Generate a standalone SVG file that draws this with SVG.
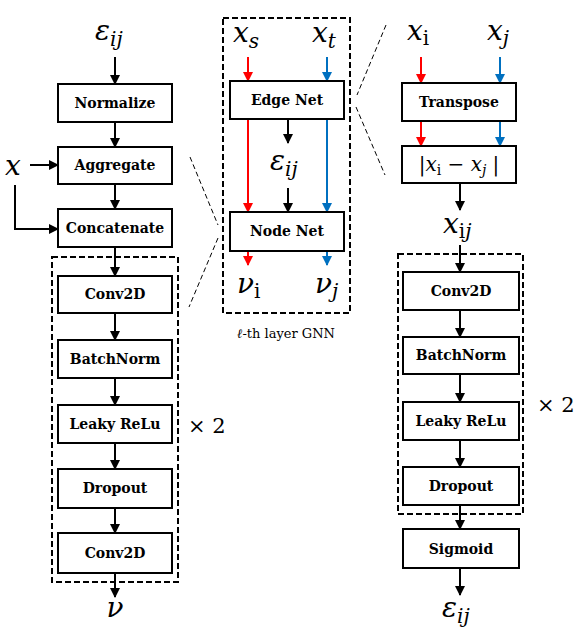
<svg xmlns="http://www.w3.org/2000/svg" width="575" height="641" viewBox="0 0 575 641">
<style>
.box{fill:#fff;stroke:#000;stroke-width:2}
.dash{fill:none;stroke:#000;stroke-width:2;stroke-dasharray:6,3}
.thin{fill:none;stroke:#000;stroke-width:1;stroke-dasharray:5,3}
.lbl{font-family:"DejaVu Serif","Liberation Serif",serif;font-weight:bold;font-size:14px;text-anchor:middle}
.math{font-family:"DejaVu Serif","Liberation Serif",serif;font-style:italic;font-size:28px}
.sub{font-size:20px}
.up{font-style:normal}
.k{stroke:#000;stroke-width:2;fill:none}
.r{stroke:#FF0000;stroke-width:2;fill:none}
.b{stroke:#0070C0;stroke-width:2;fill:none}
.plain{font-family:"DejaVu Serif","Liberation Serif",serif;font-size:13px}
.times{font-family:"DejaVu Serif","Liberation Serif",serif;font-size:21px}
</style>
<defs>
<marker id="ak" markerWidth="10" markerHeight="10" refX="9" refY="5" orient="auto" markerUnits="userSpaceOnUse"><path d="M0,0 L10,5 L0,10 Z" fill="#000"/></marker>
<marker id="ar" markerWidth="10" markerHeight="10" refX="9" refY="5" orient="auto" markerUnits="userSpaceOnUse"><path d="M0,0 L10,5 L0,10 Z" fill="#FF0000"/></marker>
<marker id="ab" markerWidth="10" markerHeight="10" refX="9" refY="5" orient="auto" markerUnits="userSpaceOnUse"><path d="M0,0 L10,5 L0,10 Z" fill="#0070C0"/></marker>
</defs>

<g id="frames">
<rect class="dash" x="52" y="257" width="126" height="325"/>
<rect class="dash" x="223" y="18" width="127" height="295"/>
<rect class="dash" x="398" y="254" width="125" height="260"/>
<line class="thin" x1="190" y1="157" x2="218" y2="225"/>
<line class="thin" x1="218" y1="238" x2="189" y2="307"/>
<line class="thin" x1="386" y1="25" x2="357" y2="95"/>
<line class="thin" x1="356" y1="107" x2="385" y2="175"/>
</g>

<g id="connectors">
<line class="k" x1="115" y1="57" x2="115" y2="84" marker-end="url(#ak)"/>
<line class="k" x1="115" y1="122" x2="115" y2="147" marker-end="url(#ak)"/>
<line class="k" x1="30" y1="165" x2="58" y2="165" marker-end="url(#ak)"/>
<polyline class="k" points="15,185 15,229 58,229" marker-end="url(#ak)"/>
<line class="k" x1="115" y1="184" x2="115" y2="209" marker-end="url(#ak)"/>
<line class="k" x1="115" y1="247" x2="115" y2="276" marker-end="url(#ak)"/>
<line class="k" x1="115" y1="313" x2="115" y2="340" marker-end="url(#ak)"/>
<line class="k" x1="115" y1="378" x2="115" y2="405" marker-end="url(#ak)"/>
<line class="k" x1="115" y1="443" x2="115" y2="469" marker-end="url(#ak)"/>
<line class="k" x1="115" y1="508" x2="115" y2="533" marker-end="url(#ak)"/>
<line class="k" x1="115" y1="573" x2="115" y2="597" marker-end="url(#ak)"/>
<line class="r" x1="248" y1="57" x2="248" y2="81" marker-end="url(#ar)"/>
<line class="b" x1="327" y1="57" x2="327" y2="81" marker-end="url(#ab)"/>
<line class="k" x1="288" y1="119" x2="288" y2="143" marker-end="url(#ak)"/>
<line class="k" x1="288" y1="188" x2="288" y2="212" marker-end="url(#ak)"/>
<line class="r" x1="248" y1="119" x2="248" y2="212" marker-end="url(#ar)"/>
<line class="b" x1="327" y1="119" x2="327" y2="212" marker-end="url(#ab)"/>
<line class="r" x1="248" y1="251" x2="248" y2="265" marker-end="url(#ar)"/>
<line class="b" x1="327" y1="251" x2="327" y2="265" marker-end="url(#ab)"/>
<line class="r" x1="421" y1="57" x2="421" y2="83" marker-end="url(#ar)"/>
<line class="b" x1="500" y1="57" x2="500" y2="83" marker-end="url(#ab)"/>
<line class="r" x1="421" y1="121" x2="421" y2="146" marker-end="url(#ar)"/>
<line class="b" x1="500" y1="121" x2="500" y2="146" marker-end="url(#ab)"/>
<line class="k" x1="460" y1="183" x2="460" y2="210" marker-end="url(#ak)"/>
<line class="k" x1="460" y1="245" x2="460" y2="272" marker-end="url(#ak)"/>
<line class="k" x1="460" y1="310" x2="460" y2="337" marker-end="url(#ak)"/>
<line class="k" x1="460" y1="374" x2="460" y2="402" marker-end="url(#ak)"/>
<line class="k" x1="460" y1="440" x2="460" y2="467" marker-end="url(#ak)"/>
<line class="k" x1="460" y1="505" x2="460" y2="529" marker-end="url(#ak)"/>
<line class="k" x1="460" y1="568" x2="460" y2="595" marker-end="url(#ak)"/>
</g>

<g id="eps-in"><text class="math" x="95" y="40">ε<tspan class="sub" dy="6">ij</tspan></text></g>
<g id="x-in"><text class="math" x="5" y="175">x</text></g>
<g id="normalize"><rect class="box" x="58" y="84" width="114" height="38"/><text class="lbl" x="115" y="108">Normalize</text></g>
<g id="aggregate"><rect class="box" x="58" y="147" width="114" height="37"/><text class="lbl" x="115" y="170">Aggregate</text></g>
<g id="concatenate"><rect class="box" x="58" y="209" width="114" height="38"/><text class="lbl" x="115" y="233">Concatenate</text></g>
<g id="conv2d-a"><rect class="box" x="58" y="276" width="114" height="37"/><text class="lbl" x="115" y="299">Conv2D</text></g>
<g id="batchnorm-a"><rect class="box" x="58" y="340" width="114" height="38"/><text class="lbl" x="115" y="364">BatchNorm</text></g>
<g id="leaky-a"><rect class="box" x="58" y="405" width="114" height="38"/><text class="lbl" x="115" y="429">Leaky ReLu</text></g>
<g id="dropout-a"><rect class="box" x="58" y="469" width="114" height="39"/><text class="lbl" x="115" y="493">Dropout</text></g>
<g id="conv2d-b"><rect class="box" x="58" y="533" width="114" height="40"/><text class="lbl" x="115" y="558">Conv2D</text></g>
<g id="v-out"><text class="math" x="115" y="617" text-anchor="middle">ν</text></g>
<g id="times-a"><text class="times" x="188" y="433">× 2</text></g>

<g id="xs"><text class="math" x="233" y="42">x<tspan class="sub" dy="6">s</tspan></text></g>
<g id="xt"><text class="math" x="312" y="42">x<tspan class="sub" dy="6">t</tspan></text></g>
<g id="edgenet"><rect class="box" x="230" y="81" width="114" height="38"/><text class="lbl" x="287" y="105">Edge Net</text></g>
<g id="eps-mid"><text class="math" x="270" y="170">ε<tspan class="sub" dy="6">ij</tspan></text></g>
<g id="nodenet"><rect class="box" x="230" y="212" width="114" height="39"/><text class="lbl" x="287" y="236">Node Net</text></g>
<g id="vi"><text class="math" x="237" y="293">ν<tspan class="sub up" dy="5">i</tspan></text></g>
<g id="vj"><text class="math" x="315" y="293">ν<tspan class="sub" dy="5">j</tspan></text></g>
<g id="gnn-label"><text class="plain" x="286" y="338" text-anchor="middle"><tspan font-style="italic">ℓ</tspan>-th layer GNN</text></g>

<g id="xi"><text class="math" x="407" y="40">x<tspan class="sub up" dy="5">i</tspan></text></g>
<g id="xj"><text class="math" x="487" y="40">x<tspan class="sub" dy="5">j</tspan></text></g>
<g id="transpose"><rect class="box" x="402" y="83" width="114" height="38"/><text class="lbl" x="459" y="107">Transpose</text></g>
<g id="absdiff"><rect class="box" x="402" y="146" width="114" height="37"/><text x="459" y="171" text-anchor="middle" font-family="DejaVu Serif, Liberation Serif, serif" font-size="20px"><tspan>|</tspan><tspan font-style="italic">x</tspan><tspan font-size="14px" dy="4">i</tspan><tspan dy="-4"> − </tspan><tspan font-style="italic">x</tspan><tspan font-size="14px" font-style="italic" dy="4">j</tspan><tspan dy="-4"> |</tspan></text></g>
<g id="xij"><text class="math" x="443" y="233">x<tspan class="sub up" dy="5">i</tspan><tspan class="sub">j</tspan></text></g>
<g id="conv2d-c"><rect class="box" x="403" y="272" width="116" height="38"/><text class="lbl" x="461" y="296">Conv2D</text></g>
<g id="batchnorm-c"><rect class="box" x="403" y="337" width="116" height="37"/><text class="lbl" x="461" y="360">BatchNorm</text></g>
<g id="leaky-c"><rect class="box" x="403" y="402" width="116" height="38"/><text class="lbl" x="461" y="426">Leaky ReLu</text></g>
<g id="dropout-c"><rect class="box" x="403" y="467" width="116" height="38"/><text class="lbl" x="461" y="491">Dropout</text></g>
<g id="sigmoid"><rect class="box" x="403" y="529" width="116" height="39"/><text class="lbl" x="461" y="554">Sigmoid</text></g>
<g id="eps-out"><text class="math" x="442" y="617">ε<tspan class="sub" dy="6">ij</tspan></text></g>
<g id="times-c"><text class="times" x="537" y="412">× 2</text></g>
</svg>
